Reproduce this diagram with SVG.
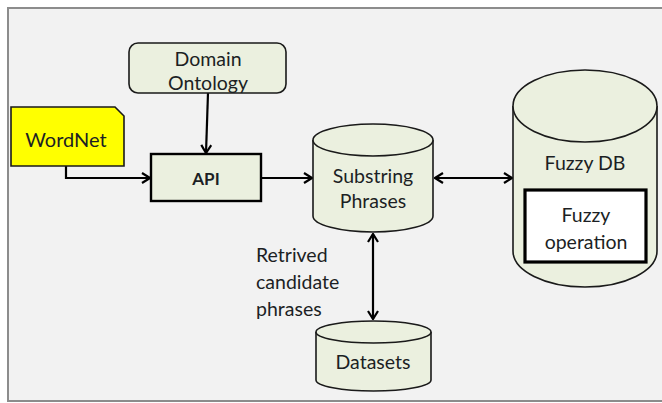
<svg xmlns="http://www.w3.org/2000/svg" width="662" height="403" viewBox="0 0 662 403">
  <style>
    .lbl { font-family: Lato, "Liberation Sans", sans-serif; font-size: 19.5px; fill: #1c1f24; text-anchor: middle; }
    .free { text-anchor: start; }
    .node { fill: #ebf0df; stroke: #1a1a1a; stroke-width: 1.6; }
    .edge { fill: none; stroke: #000; stroke-width: 2.2; }
  </style>
  <defs>
    <marker id="arr" viewBox="0 0 10 12" refX="9" refY="6" markerWidth="10" markerHeight="12" orient="auto-start-reverse" markerUnits="userSpaceOnUse">
      <path d="M1,1 L9,6 L1,11" fill="none" stroke="#000" stroke-width="2.2" stroke-linejoin="miter"/>
    </marker>
  </defs>

  <!-- canvas -->
  <rect x="0" y="0" width="662" height="403" fill="#ffffff"/>
  <rect x="8" y="8" width="660" height="393" fill="#f2f2f2" stroke="#8c8c8c" stroke-width="2"/>

  <!-- connectors -->
  <g id="connectors">
    <line class="edge" x1="208" y1="93" x2="206" y2="153" marker-end="url(#arr)"/>
    <polyline class="edge" points="66,166 66,178 150,178" marker-end="url(#arr)"/>
    <line class="edge" x1="261" y1="178" x2="312" y2="178" marker-end="url(#arr)"/>
    <line class="edge" x1="435" y1="178" x2="512" y2="178" marker-start="url(#arr)" marker-end="url(#arr)"/>
    <line class="edge" x1="373" y1="234" x2="373" y2="319" marker-start="url(#arr)" marker-end="url(#arr)"/>
  </g>

  <g id="domain-ontology">
    <rect class="node" x="129" y="43" width="157" height="50" rx="9"/>
    <text class="lbl" x="208" y="66">Domain</text>
    <text class="lbl" x="208" y="90">Ontology</text>
  </g>

  <g id="wordnet">
    <path d="M11,107 L115,107 L124,116 L124,166 L11,166 Z" fill="#ffff00" stroke="#1a1a1a" stroke-width="1.6"/>
    <text class="lbl" x="66" y="147" style="font-size:20px">WordNet</text>
  </g>

  <g id="api">
    <rect x="151" y="154" width="110" height="47" fill="#ebf0df" stroke="#000" stroke-width="2.4"/>
    <text class="lbl" x="206" y="185" style="font-weight:bold;font-size:17px">API</text>
  </g>

  <g id="substring-phrases">
    <path class="node" d="M313,140 L313,216 A60,16 0 0 0 433,216 L433,140"/>
    <ellipse class="node" cx="373" cy="140" rx="60" ry="16"/>
    <text class="lbl" x="373" y="183">Substring</text>
    <text class="lbl" x="373" y="208">Phrases</text>
  </g>

  <g id="fuzzy-db">
    <path class="node" d="M513,106 L513,251 A72,36 0 0 0 657,251 L657,106"/>
    <ellipse class="node" cx="585" cy="106" rx="72" ry="36"/>
    <text class="lbl" x="585" y="170">Fuzzy DB</text>
    <g id="fuzzy-operation">
      <rect x="525" y="190" width="121" height="72" fill="#ffffff" stroke="#000" stroke-width="3.2"/>
      <text class="lbl" x="586" y="222">Fuzzy</text>
      <text class="lbl" x="586" y="249">operation</text>
    </g>
  </g>

  <g id="datasets">
    <path class="node" d="M316,332 L316,380 A57.5,11 0 0 0 431,380 L431,332"/>
    <ellipse class="node" cx="373.5" cy="332" rx="57.5" ry="11"/>
    <text class="lbl" x="373" y="369">Datasets</text>
  </g>

  <g id="retrieved-label">
    <text class="lbl free" x="256" y="262">Retrived</text>
    <text class="lbl free" x="256" y="289">candidate</text>
    <text class="lbl free" x="256" y="316">phrases</text>
  </g>
</svg>
